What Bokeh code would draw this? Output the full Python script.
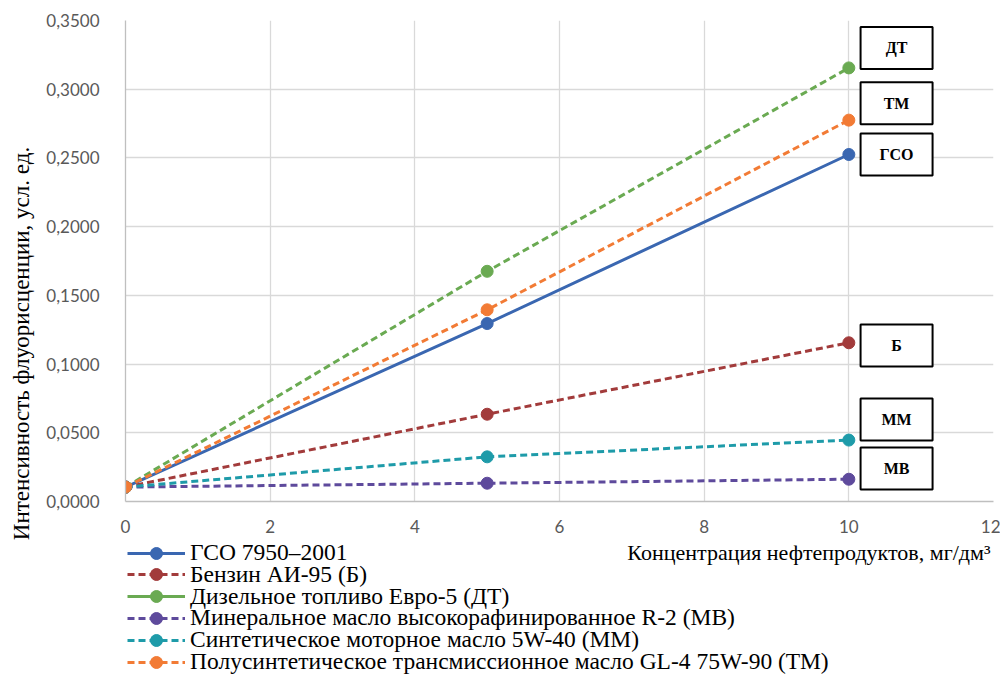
import math
from bokeh.plotting import figure
from bokeh.layouts import column, row
from bokeh.models import Range1d, CustomJSTickFormatter, FixedTicker, Label, Legend, LegendItem, ColumnDataSource
from bokeh.core.properties import value
from bokeh.embed import file_html
from bokeh.resources import INLINE

conc = [0, 5, 10]
names = ["ГСО 7950–2001", "Бензин АИ-95 (Б)", "Дизельное топливо Евро-5 (ДТ)",
         "Минеральное масло высокорафинированное R-2 (МВ)",
         "Синтетическое моторное масло 5W-40 (ММ)",
         "Полусинтетическое трансмиссионное масло GL-4 75W-90 (ТМ)"]
gso = [0.0105, 0.1295, 0.2525]
benz = [0.0105, 0.0635, 0.1155]
dt = [0.0105, 0.1675, 0.3155]
mv = [0.0105, 0.0133, 0.0162]
mm = [0.0105, 0.0325, 0.0447]
tm = [0.0105, 0.1395, 0.2775]
series = [gso, benz, dt, mv, mm, tm]
colors = ["#3A67B1", "#A23B3B", "#6AAA52", "#5E4A9C", "#1E9BA9", "#F27B35"]
dashed_plot = [False, True, True, True, True, True]
dashed_legend = [False, True, False, True, True, True]

box_labels = ["ДТ", "ТМ", "ГСО", "Б", "ММ", "МВ"]
box_y = [0.330, 0.2897, 0.2525, 0.1135, 0.0597, 0.0240]
box_x = 10.66

x_ticks = [0, 2, 4, 6, 8, 10, 12]
y_ticks = [0, 0.05, 0.1, 0.15, 0.2, 0.25, 0.3, 0.35]

x_title = "Концентрация нефтепродуктов, мг/дм³"
y_title = "Интенсивность флуорисценции, усл. ед."

SERIF = "Liberation Serif"
DASH = "7 4"
W = 1000
H = 676
YLAB_W = 40
H_TOP = 539
H_BOT = H - H_TOP
LEFT = 125
RIGHT = 7
ROW_FIRST = 13.5
ROW_STEP = 21.8
ROW_H = 30

# ---- strip holding the y-axis title ----
yl = figure(width=YLAB_W, height=H, output_backend="svg", toolbar_location=None,
            x_range=Range1d(0, YLAB_W), y_range=Range1d(H - 37, 20),
            x_axis_type=None, y_axis_type=None,
            min_border_left=0, min_border_right=0, min_border_top=20, min_border_bottom=37)
yl.outline_line_color = None
yl.xgrid.visible = False
yl.ygrid.visible = False
yl.add_layout(Label(x=21, y=343, text=y_title, angle=math.pi / 2,
                    text_align="center", text_baseline="middle",
                    text_font=SERIF, text_font_size="23px", text_color="black"))

# ---- main chart ----
p = figure(width=W - YLAB_W, height=H_TOP, output_backend="svg", toolbar_location=None,
           x_range=Range1d(0, 12), y_range=Range1d(0, 0.35),
           min_border_left=LEFT - YLAB_W, min_border_right=RIGHT, min_border_top=20,
           min_border_bottom=H_TOP - 501)
p.outline_line_color = None
p.xaxis.ticker = FixedTicker(ticks=x_ticks)
p.yaxis.ticker = FixedTicker(ticks=y_ticks)
p.yaxis.formatter = CustomJSTickFormatter(code="return tick.toFixed(4).replace('.', ',');")
for ax in (p.xaxis, p.yaxis):
    ax.axis_line_color = "#BFBFBF"
    ax.axis_line_width = 1.3
    ax.major_tick_line_color = None
    ax.minor_tick_line_color = None
    ax.major_label_text_font = "Lato"
    ax.major_label_text_font_size = "17px"
    ax.major_label_text_color = "#595959"
p.xaxis.major_label_standoff = 12
p.yaxis.major_label_standoff = 20
p.xgrid.grid_line_color = "#D9D9D9"
p.ygrid.grid_line_color = "#D9D9D9"
p.xgrid.grid_line_width = 1.3
p.ygrid.grid_line_width = 1.3

for ys, c, d in zip(series, colors, dashed_plot):
    src = ColumnDataSource(dict(x=conc, y=ys))
    p.line("x", "y", source=src, line_color=c, line_width=3, line_dash=DASH if d else "solid")
    p.scatter("x", "y", source=src, size=12, fill_color=c, line_color=c)

bsrc = ColumnDataSource(dict(x=[box_x] * len(box_labels), y=box_y, t=box_labels))
p.rect("x", "y", source=bsrc, width=72, height=42, width_units="screen", height_units="screen",
       fill_color="white", line_color="black", line_width=2)
p.text("x", "y", text="t", source=bsrc, text_font=value(SERIF), text_font_style="bold",
       text_font_size="16px", text_align="center", text_baseline="middle", text_color="black")

# ---- legend strip with x-axis title (frame aligned with the chart's frame) ----
q = figure(width=W - YLAB_W, height=H_BOT, output_backend="svg", toolbar_location=None,
           x_range=Range1d(LEFT, W - RIGHT), y_range=Range1d(H_BOT, 0),
           x_axis_type=None, y_axis_type=None,
           min_border_left=LEFT - YLAB_W, min_border_right=RIGHT, min_border_top=0, min_border_bottom=0)
q.outline_line_color = None
q.xgrid.visible = False
q.ygrid.visible = False

nan = float("nan")
for i, (name, c, d) in enumerate(zip(names, colors, dashed_legend)):
    lr = q.line([nan], [nan], line_color=c, line_width=3, line_dash=DASH if d else "solid")
    sr = q.scatter([nan], [nan], size=12, fill_color=c, line_color=c)
    center = ROW_FIRST + i * ROW_STEP
    lg = Legend(items=[LegendItem(label=name, renderers=[lr, sr])],
                location=(2, H_BOT - center - ROW_H / 2), padding=0, margin=0, spacing=0,
                label_height=ROW_H, glyph_height=ROW_H, glyph_width=58, label_standoff=5,
                label_text_font=SERIF, label_text_font_size="23.5px", label_text_color="black",
                border_line_color=None, background_fill_alpha=0)
    q.add_layout(lg, "center")
q.add_layout(Label(x=W - RIGHT - 3, y=13, text=x_title, text_align="right", text_baseline="middle",
                   text_font=SERIF, text_font_size="22px", text_color="black"))

layout = row(yl, column(p, q, spacing=0), spacing=0)
open("out.html", "w").write(file_html(layout, INLINE))
